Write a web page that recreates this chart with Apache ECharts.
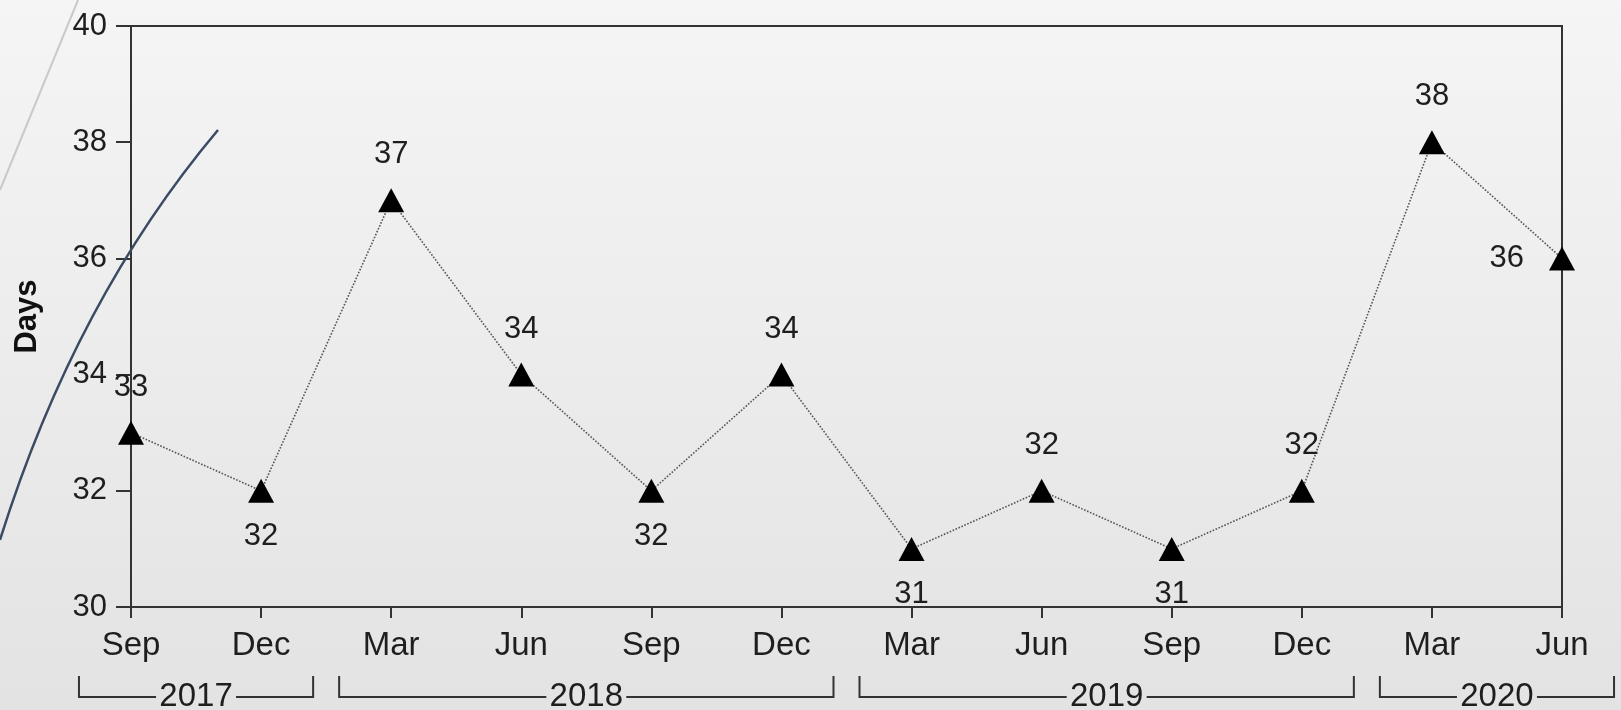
<!DOCTYPE html>
<html>
<head>
<meta charset="utf-8">
<script src="https://cdn.jsdelivr.net/npm/echarts@6/dist/echarts.min.js"></script>
<style>
html,body{margin:0;padding:0;}
#myChart{width:1621px;height:710px;}
</style>
</head>
<body>
<div id="myChart"></div>
<script>
// 季度标签和数值
const quarters = ['Sep', 'Dec', 'Mar', 'Jun', 'Sep', 'Dec', 'Mar', 'Jun', 'Sep', 'Dec', 'Mar', 'Jun'];
const days = [33, 32, 37, 34, 32, 34, 31, 32, 31, 32, 38, 36];
// 年份分组 (起止下标)
const years = ['2017', '2018', '2019', '2020'];
const yearStart = [0, 2, 6, 10];
const yearEnd = [1, 5, 9, 11];

const font = 'Liberation Sans';
const textColor = '#1e1e1e';

// 局部最低点标签放下方, 最后一个放左边
function labelFor(i) {
    if (i === days.length - 1) return {position: 'left', distance: 25};
    if (i > 0 && days[i] < days[i - 1] && (i === days.length - 1 || days[i] <= days[i + 1])) {
        return {position: 'bottom', distance: 18};
    }
    return {position: 'top', distance: 18};
}

let myChart = echarts.init(document.getElementById('myChart'));
myChart.setOption({
    animation: false,
    backgroundColor: new echarts.graphic.LinearGradient(0, 0, 0, 1, [
        {offset: 0, color: '#f5f5f5'},
        {offset: 1, color: '#e3e3e3'}
    ]),
    grid: {
        left: 131,
        right: 59,
        top: 26,
        bottom: 103,
        show: true,
        borderColor: '#333',
        borderWidth: 2,
        backgroundColor: 'transparent'
    },
    xAxis: {
        type: 'category',
        boundaryGap: false,
        data: quarters,
        axisLine: {lineStyle: {color: '#333', width: 2}},
        axisTick: {length: 11, lineStyle: {color: '#333', width: 2}},
        axisLabel: {fontFamily: font, fontSize: 33, color: textColor, margin: 22},
        splitLine: {show: false}
    },
    yAxis: {
        type: 'value',
        min: 30,
        max: 40,
        interval: 2,
        name: 'Days',
        nameLocation: 'middle',
        nameRotate: 90,
        nameGap: 88,
        nameTextStyle: {fontFamily: font, fontSize: 31, fontWeight: 'bold', color: '#111'},
        axisLine: {show: true, lineStyle: {color: '#333', width: 2}},
        axisTick: {show: true, length: 15, lineStyle: {color: '#333', width: 2}},
        axisLabel: {fontFamily: font, fontSize: 31, color: textColor, margin: 24},
        splitLine: {show: false}
    },
    series: [{
        type: 'line',
        data: days.map((v, i) => ({value: v, label: labelFor(i)})),
        symbol: 'triangle',
        symbolSize: [26, 24],
        itemStyle: {color: '#000'},
        lineStyle: {color: '#555', width: 1.6, type: 'dotted'},
        label: {show: true, fontFamily: font, fontSize: 31, color: textColor},
        z: 3
    }]
});

// 年份括号, 用坐标轴换算位置
const step = myChart.convertToPixel({xAxisIndex: 0}, 1) - myChart.convertToPixel({xAxisIndex: 0}, 0);
const baseY = myChart.convertToPixel({yAxisIndex: 0}, 30);
const lineY = baseY + 90;
const topY = lineY - 21;
let graphics = [
    // 背景装饰线
    {
        type: 'line', z: 100,
        shape: {x1: 0, y1: 190, x2: 78, y2: 0},
        style: {stroke: '#c9c9c9', lineWidth: 2}
    },
    {
        type: 'bezierCurve', z: 100,
        shape: {x1: 0, y1: 540, cpx1: 75, cpy1: 300, x2: 218, y2: 130},
        style: {stroke: '#3b4b63', lineWidth: 2.5, fill: null}
    }
];
years.forEach((y, k) => {
    let x0 = myChart.convertToPixel({xAxisIndex: 0}, yearStart[k]) - step * 0.4;
    let x1 = myChart.convertToPixel({xAxisIndex: 0}, yearEnd[k]) + step * 0.4;
    let cx = (x0 + x1) / 2;
    graphics.push({
        type: 'polyline',
        shape: {points: [[x0, topY], [x0, lineY], [cx - 40, lineY]]},
        style: {stroke: '#333', lineWidth: 2, fill: null}
    });
    graphics.push({
        type: 'polyline',
        shape: {points: [[cx + 40, lineY], [x1, lineY], [x1, topY]]},
        style: {stroke: '#333', lineWidth: 2, fill: null}
    });
    graphics.push({
        type: 'text',
        x: cx, y: lineY,
        style: {text: y, fontFamily: font, fontSize: 33, fill: textColor, align: 'center', verticalAlign: 'middle'}
    });
});
myChart.setOption({graphic: graphics});
</script>
</body>
</html>
